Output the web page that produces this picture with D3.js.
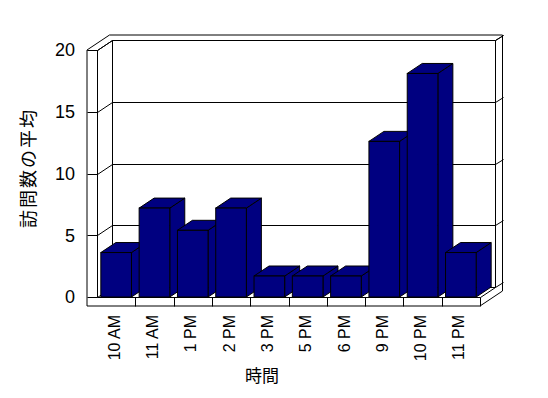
<!DOCTYPE html>
<html>
<head>
<meta charset="utf-8">
<script src="https://cdn.jsdelivr.net/npm/d3@7"></script>
<style>
  body { margin: 0; background: #fff; }
  text { font-family: "Liberation Sans", Arial, "Noto Sans CJK JP", sans-serif; fill: #000; }
</style>
</head>
<body>
<script>
const hours = ["10 AM", "11 AM", "1 PM", "2 PM", "3 PM", "5 PM", "6 PM", "9 PM", "10 PM", "11 PM"];
const visits = [3.6, 7.2, 5.4, 7.2, 1.7, 1.7, 1.7, 12.6, 18.1, 3.6];
const yTicks = [0, 5, 10, 15, 20];

const width = 548, height = 398;
// depth of the plot box and the thickness of the back wall
const dx = 15, dy = -10, tx = 7.5, ty = -5;
const x0 = 97, x1 = 480, wall = 10, floorH = 9;

const x = d3.scaleBand().domain(hours).range([x0, x1])
    .paddingInner(0.2).paddingOuter(0.1);
const y = d3.scaleLinear().domain([0, 20]).range([297, 50]);
const step = x.step();

const svg = d3.select("body").append("svg")
    .attr("width", width)
    .attr("height", height);

const yTop = y(20), base = y(0);
const line = d3.line();

// walls and floor
const frame = svg.append("g")
    .attr("fill", "none")
    .attr("stroke", "#000")
    .attr("stroke-width", 1);

frame.append("path")
    .attr("fill", "#fff")
    .attr("d", line([
      [x0 - wall, base + floorH], [x0 - wall, yTop],
      [x0 - wall + dx + tx, yTop + dy + ty], [x1 + dx + tx, yTop + dy + ty],
      [x1 + dx + tx, base + floorH + dy + ty], [x1, base + floorH]
    ]) + "Z");

const segs = [
  [[x0, yTop], [x0, base]],
  [[x0 - wall, yTop], [x0, yTop]],
  [[x0, yTop], [x0 + dx, yTop + dy], [x1 + dx, yTop + dy], [x1 + dx + tx, yTop + dy + ty]],
  [[x0 + dx, yTop + dy], [x0 + dx, base + dy]],
  [[x1 + dx, yTop + dy], [x1 + dx, base + dy]],
  [[x0, base], [x1, base], [x1 + dx, base + dy]],
  [[x1, base], [x1, base + floorH]]
];
yTicks.forEach(v => {
  const yy = y(v);
  segs.push([[x0 - wall, yy], [x0, yy], [x0 + dx, yy + dy], [x1 + dx, yy + dy], [x1 + dx + tx, yy + dy + ty]]);
});
d3.range(1, hours.length).forEach(i => {
  const xx = x0 + i * step;
  segs.push([[xx, base], [xx, base + floorH]]);
});

frame.selectAll(".seg")
  .data(segs)
  .join("path")
    .attr("class", "seg")
    .attr("d", d => line(d.map(p => [Math.round(p[0]) + 0.5, Math.round(p[1]) + 0.5])));

// bars
const bars = svg.append("g")
    .attr("fill", "#000080")
    .attr("stroke", "#000")
    .attr("stroke-width", 1)
    .attr("stroke-linejoin", "miter");

hours.forEach((h, i) => {
  const bx = x(h), bw = x.bandwidth(), by = y(visits[i]);
  const g = bars.append("g");
  g.append("path").attr("d", line([
    [bx + bw, by], [bx + bw + dx, by + dy], [bx + bw + dx, base + dy], [bx + bw, base]
  ]) + "Z");
  g.append("path").attr("d", line([
    [bx, by], [bx + dx, by + dy], [bx + bw + dx, by + dy], [bx + bw, by]
  ]) + "Z");
  g.append("rect")
      .attr("x", bx).attr("y", by)
      .attr("width", bw).attr("height", base - by);
});

// y axis labels
svg.append("g")
  .selectAll("text")
  .data(yTicks)
  .join("text")
    .attr("x", 75)
    .attr("y", d => y(d))
    .attr("dy", "0.35em")
    .attr("text-anchor", "end")
    .attr("font-size", 18)
    .text(d => d);

// x axis labels
svg.append("g")
  .selectAll("text")
  .data(hours)
  .join("text")
    .attr("transform", d => `translate(${x(d) + x.bandwidth() / 2 - 2},315) rotate(-90)`)
    .attr("dy", "0.35em")
    .attr("text-anchor", "end")
    .attr("font-size", 16)
    .text(d => d);

svg.append("text")
    .attr("x", 262)
    .attr("y", 382)
    .attr("text-anchor", "middle")
    .attr("font-size", 17)
    .style("font-family", "'Noto Sans CJK JP', sans-serif")
    .text("時間");

svg.append("text")
    .attr("transform", "translate(29,168) rotate(-90)")
    .attr("dy", "0.35em")
    .attr("text-anchor", "middle")
    .attr("font-size", 18)
    .attr("letter-spacing", 2)
    .style("font-family", "'Noto Sans CJK JP', sans-serif")
    .text("訪問数の平均");
</script>
</body>
</html>
